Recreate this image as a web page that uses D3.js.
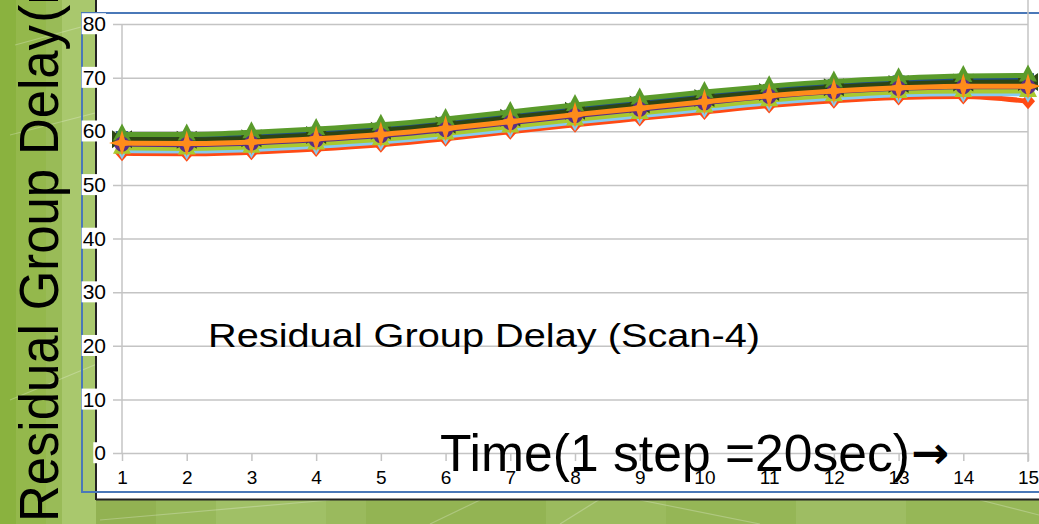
<!DOCTYPE html>
<html>
<head>
<meta charset="utf-8">
<script src="https://cdn.jsdelivr.net/npm/d3@7"></script>
<style>
  html, body { margin: 0; padding: 0; background: #9bbb59; overflow: hidden; }
  svg { display: block; }
</style>
</head>
<body>
<svg id="chart" width="1039" height="524"></svg>
<script>
// Time steps (1 step = 20 sec)
const categories = ["1","2","3","4","5","6","7","8","9","10","11","12","13","14","15"];
const yTicks = [0, 10, 20, 30, 40, 50, 60, 70, 80];

// Residual group delay per channel
const seriesGreen  = [59.4, 59.4, 59.8, 60.4, 61.2, 62.3, 63.6, 64.9, 66.1, 67.3, 68.4, 69.3, 69.9, 70.3, 70.4];
const seriesNavy   = [58.9, 58.8, 59.1, 59.7, 60.5, 61.6, 62.9, 64.2, 65.4, 66.6, 67.7, 68.6, 69.3, 69.6, 69.7];
const seriesOlive  = [58.5, 58.4, 58.7, 59.3, 60.1, 61.2, 62.5, 63.8, 65.0, 66.2, 67.3, 68.2, 68.8, 69.1, 69.2];
const seriesPurple = [57.6, 57.5, 57.8, 58.4, 59.2, 60.3, 61.6, 62.9, 64.1, 65.3, 66.5, 67.4, 68.0, 68.3, 68.3];
const seriesOrange = [57.8, 57.7, 58.0, 58.6, 59.4, 60.5, 61.8, 63.1, 64.3, 65.5, 66.6, 67.5, 68.1, 68.4, 68.4];
const seriesLime   = [56.9, 56.8, 57.1, 57.7, 58.5, 59.6, 60.9, 62.2, 63.4, 64.6, 65.8, 66.7, 67.3, 67.5, 67.5];
const seriesSky    = [56.4, 56.3, 56.6, 57.2, 58.0, 59.1, 60.4, 61.7, 62.9, 64.1, 65.3, 66.2, 66.8, 67.0, 67.0];
const seriesRed    = [55.9, 55.8, 56.1, 56.7, 57.5, 58.6, 59.9, 61.2, 62.4, 63.6, 64.8, 65.7, 66.3, 66.5, 65.6];

// Drawing order (last drawn on top)
const series = [
  { values: seriesRed,    color: "#ff4a14", marker: "diamond" },
  { values: seriesSky,    color: "#87c9f0", marker: "triDown" },
  { values: seriesLime,   color: "#a9c92f", marker: "triangle" },
  { values: seriesNavy,   color: "#1f4f82", marker: "square" },
  { values: seriesOlive,  color: "#2d4514", marker: "cross" },
  { values: seriesGreen,  color: "#5a9b2b", marker: "triangle" },
  { values: seriesPurple, color: "#5a2d84", marker: "circle" },
  { values: seriesOrange, color: "#ff8c1a", marker: "star4" }
];

const titleFont = "Liberation Sans, Arial, sans-serif";
const svg = d3.select("#chart");

// ---- slide background ----
const bg = svg.append("g");
bg.append("rect").attr("x", 0).attr("y", 0).attr("width", 1039).attr("height", 524).attr("fill", "#99bb57");
bg.append("rect").attr("x", 0).attr("y", 0).attr("width", 16).attr("height", 524).attr("fill", "#8ab23f");
bg.append("rect").attr("x", 16).attr("y", 0).attr("width", 30).attr("height", 524).attr("fill", "#94b84c");
bg.append("rect").attr("x", 62).attr("y", 0).attr("width", 34).attr("height", 524).attr("fill", "#a9c86d");
const bands = [[96, 60, "#92b252"], [156, 60, "#98b95b"], [216, 110, "#a0c066"], [326, 40, "#9aba5d"],
               [366, 180, "#93b453"], [546, 120, "#9bbb5e"], [666, 130, "#95b656"], [796, 110, "#9ebd63"],
               [906, 133, "#96b757"]];
bands.forEach(b => bg.append("rect").attr("x", b[0]).attr("y", 499).attr("width", b[1]).attr("height", 25).attr("fill", b[2]));
const streaks = [[15, 45, 290, -30], [10, 135, 300, 60], [10, 400, 300, 280], [100, 520, 330, 500],
                 [430, 524, 480, 500], [560, 524, 600, 499], [640, 500, 760, 524], [980, 500, 1039, 515]];
streaks.forEach(s => bg.append("line").attr("x1", s[0]).attr("y1", s[1]).attr("x2", s[2]).attr("y2", s[3])
  .attr("stroke", "#ffffff").attr("stroke-opacity", 0.25).attr("stroke-width", 1.2));

// ---- axis title (rotated) ----
const yTitle = svg.append("g").attr("transform", "translate(58,522) rotate(-90)");
yTitle.append("text").attr("x", 0).attr("y", 0)
  .attr("font-family", titleFont).attr("font-size", 55).attr("fill", "#000")
  .attr("textLength", 497).attr("lengthAdjust", "spacingAndGlyphs")
  .text("Residual Group Delay");
yTitle.append("text").attr("x", 499).attr("y", 0)
  .attr("font-family", titleFont).attr("font-size", 55).attr("fill", "#000")
  .text("(ns)");

// ---- chart object frame ----
svg.append("rect").attr("x", 96).attr("y", -2).attr("width", 960).attr("height", 501).attr("fill", "#ffffff");
svg.append("line").attr("x1", 96).attr("y1", 0).attr("x2", 96).attr("y2", 500).attr("stroke", "#222").attr("stroke-width", 2);
svg.append("line").attr("x1", 96).attr("y1", 499.5).attr("x2", 1039).attr("y2", 499.5).attr("stroke", "#222").attr("stroke-width", 2);
svg.append("rect").attr("x", 82).attr("y", 13).attr("width", 980).attr("height", 479)
  .attr("fill", "none").attr("stroke", "#4a78b8").attr("stroke-width", 2);

// ---- scales ----
const x = d3.scalePoint().domain(categories).range([122, 1028]);
const y = d3.scaleLinear().domain([0, 80]).range([453, 24]);

// gridlines
const grid = svg.append("g").attr("transform", "translate(1028,0)")
  .call(d3.axisLeft(y).tickValues(yTicks).tickSize(1028 - 113).tickFormat(""));
grid.select(".domain").remove();
grid.selectAll("line").attr("stroke", "#c4c4c4").attr("stroke-width", 1.5);

// axis lines
svg.append("line").attr("x1", 122).attr("y1", y(80)).attr("x2", 122).attr("y2", y(0))
  .attr("stroke", "#c4c4c4").attr("stroke-width", 1.5);
svg.append("line").attr("x1", 1028).attr("y1", 0).attr("x2", 1028).attr("y2", 462)
  .attr("stroke", "#c4c4c4").attr("stroke-width", 1.5);

// y tick labels with white backing boxes
const yLab = svg.append("g").attr("transform", "translate(106,0)")
  .call(d3.axisLeft(y).tickValues(yTicks).tickSize(0).tickPadding(0));
yLab.select(".domain").remove();
yLab.selectAll("text").attr("font-family", "Liberation Sans, Arial, sans-serif").attr("font-size", 21).attr("fill", "#000");
yLab.selectAll(".tick").each(function() {
  const t = d3.select(this).select("text");
  const bb = t.node().getBBox();
  d3.select(this).insert("rect", "text").attr("x", bb.x - 1).attr("y", bb.y + 1)
    .attr("width", bb.width + 1).attr("height", bb.height - 2).attr("fill", "#fff");
});

// x axis
const xAx = svg.append("g").attr("transform", `translate(0,${y(0)})`)
  .call(d3.axisBottom(x).tickSize(8).tickPadding(10));
xAx.select(".domain").remove();
xAx.selectAll("line").attr("stroke", "#c4c4c4").attr("stroke-width", 1.5);
xAx.selectAll("text").attr("font-family", "Liberation Sans, Arial, sans-serif").attr("font-size", 19).attr("fill", "#000");

// ---- series ----
const markerPath = {
  square:   "M-6,-6H6V6H-6Z",
  diamond:  "M0,-8L7,0L0,8L-7,0Z",
  triangle: "M0,-11L9,6H-9Z",
  triDown:  "M0,9L8,-5H-8Z",
  circle:   d3.symbol(d3.symbolCircle, 180)(),
  cross:    "M-10,-9L0,-2L10,-9L10,9L0,2L-10,9Z",
  star4:    "M0,-13L3,-3L13,0L3,3L0,13L-3,3L-13,0L-3,-3Z"
};

const line = d3.line().x((d, i) => x(categories[i])).y(d => y(d)).curve(d3.curveMonotoneX);

series.forEach(s => {
  const g = svg.append("g");
  g.append("path").datum(s.values).attr("d", line)
    .attr("fill", "none").attr("stroke", s.color).attr("stroke-width", 5).attr("stroke-linejoin", "round");
  g.selectAll("path.m").data(s.values).join("path").attr("class", "m")
    .attr("transform", (d, i) => `translate(${x(categories[i])},${y(d)})`)
    .attr("d", markerPath[s.marker]).attr("fill", s.color);
});

// ---- text annotations ----
svg.append("text").attr("x", 208).attr("y", 347)
  .attr("font-family", titleFont).attr("font-size", 34).attr("fill", "#000")
  .attr("textLength", 552).attr("lengthAdjust", "spacingAndGlyphs")
  .text("Residual Group Delay (Scan-4)");

svg.append("text").attr("x", 440).attr("y", 471)
  .attr("font-family", titleFont).attr("font-size", 52).attr("fill", "#000")
  .attr("textLength", 470).attr("lengthAdjust", "spacingAndGlyphs")
  .text("Time(1 step =20sec)");
svg.append("text").attr("x", 911).attr("y", 468)
  .attr("font-family", "DejaVu Sans, sans-serif").attr("font-weight", "bold").attr("font-size", 44).attr("fill", "#000")
  .attr("textLength", 38).attr("lengthAdjust", "spacingAndGlyphs")
  .text("→");
</script>
</body>
</html>
